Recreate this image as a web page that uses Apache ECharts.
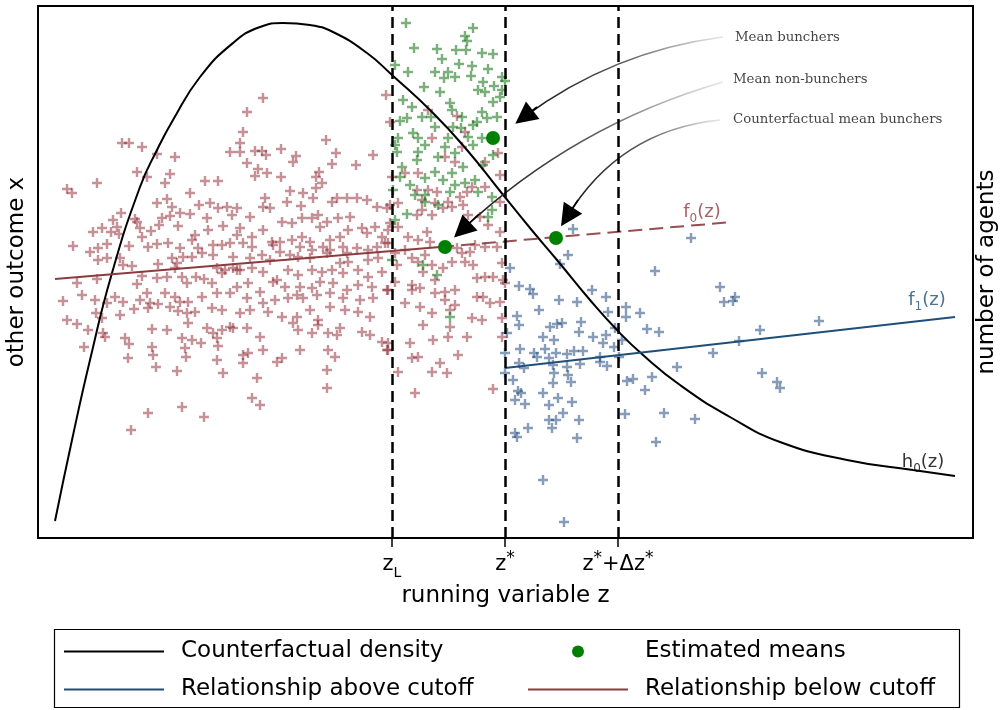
<!DOCTYPE html>
<html><head><meta charset="utf-8">
<script src="https://cdn.jsdelivr.net/npm/echarts@6/dist/echarts.min.js"></script>
<style>html,body{margin:0;padding:0;background:#fff}#c{width:1000px;height:710px}</style>
</head><body><div id="c"></div>
<script>
// ---------- data ----------
const zTicks = [35.4, 46.7, 58.0];
const zTickLabels = ['{m|z}{s|L}', '{m|z}{p|*}', '{m|z}{p|*}{m|+Δz}{p|*}'];

const densityH0 = [[1.7,1.7],[3.4,9.8],[5.2,17.8],[7.4,26.5],[10.2,35.1],[11.9,38.8],[13.5,41.8],[16.2,46.1],[19.5,49.5],[22.2,51.1],[24.5,51.5],[27.2,51.3],[29.5,50.6],[32.9,48.5],[35.4,46.3],[39.5,42.5],[42.9,38.8],[46.2,34.7],[49.2,31.0],[51.9,27.8],[55.2,23.8],[57.9,20.8],[60.5,18.3],[64.2,15.3],[69.2,12.1],[74.2,9.6],[80.9,7.8],[87.5,6.8],[91.7,6.2]];

const f0Fit = [[1.7,25.9],[40.2,29.1]];
const f0Extrap = [[40.2,29.1],[69.5,31.6]];
const f1Fit = [[46.7,17.0],[91.7,22.1]];
const estimatedMeans = [[45.5,40.0],[40.7,29.1],[51.8,30.0]];

const belowPts = [[8.4,39.5],[9.1,39.5],[10.4,39.1],[11.9,38.4],[13.7,38.1],[9.9,36.6],[10.9,36.1],[13.2,36.4],[12.7,35.5],[5.9,35.5],[2.9,34.9],[3.4,34.5],[15.2,34.5],[16.7,35.7],[18.0,35.7],[19.2,38.6],[11.9,33.5],[12.9,33.9],[13.4,33.1],[8.3,32.5],[7.5,31.8],[9.7,31.9],[9.9,31.6],[12.4,32.0],[13.2,32.2],[14.2,32.5],[15.2,32.4],[16.1,33.3],[17.2,33.5],[18.0,33.0],[18.9,33.1],[16.9,32.0],[19.4,32.3],[5.5,30.6],[6.4,31.0],[7.3,30.6],[7.9,31.1],[8.1,30.4],[10.2,31.0],[10.4,30.1],[11.3,30.7],[12.1,31.3],[14.0,31.2],[17.0,30.8],[18.5,31.2],[3.5,29.2],[5.2,28.6],[6.0,29.0],[6.9,29.4],[9.1,29.2],[11.0,29.1],[11.9,29.4],[13.0,29.5],[14.2,29.0],[15.4,29.8],[15.7,30.3],[16.0,29.0],[17.5,29.3],[18.4,29.3],[19.9,30.3],[6.0,27.8],[6.9,28.0],[8.2,28.0],[8.5,27.3],[9.4,27.2],[12.0,27.4],[13.4,28.0],[13.9,27.5],[14.5,28.1],[15.4,28.1],[16.4,28.5],[17.5,28.3],[19.5,28.1],[17.9,27.0],[18.7,26.8],[19.5,27.0],[3.9,25.5],[4.4,24.3],[5.9,25.9],[7.7,24.1],[9.9,25.4],[10.4,26.2],[11.9,26.0],[12.9,26.1],[13.7,27.0],[14.4,26.1],[14.9,25.5],[15.8,26.1],[16.6,25.9],[17.4,25.5],[18.4,26.5],[19.9,26.8],[2.5,23.7],[5.7,23.8],[6.9,23.5],[8.5,23.6],[10.2,23.8],[10.9,24.5],[11.2,23.5],[12.7,24.5],[13.7,24.1],[14.2,23.6],[15.0,23.6],[16.4,24.1],[17.9,24.5],[19.2,24.5],[2.9,21.8],[3.9,21.4],[5.0,20.8],[5.8,22.5],[6.4,22.0],[8.2,22.3],[9.6,22.9],[11.0,23.0],[12.0,23.4],[13.2,23.1],[14.0,22.7],[14.9,22.5],[15.7,22.6],[17.4,23.0],[18.4,22.8],[6.5,20.5],[6.7,20.1],[8.7,20.0],[9.1,19.4],[11.4,20.9],[12.9,20.8],[14.4,20.0],[15.0,21.5],[16.9,21.0],[17.5,20.5],[18.4,20.8],[19.2,21.1],[4.6,19.1],[9.0,18.0],[11.4,19.1],[11.5,18.3],[14.7,19.0],[15.4,19.8],[16.3,19.5],[17.9,20.0],[18.0,19.2],[11.8,17.1],[13.9,16.7],[14.8,18.1],[17.9,17.8],[18.5,16.5],[14.4,13.1],[11.0,12.5],[16.6,12.1],[9.3,10.8],
[22.5,44.0],[20.9,42.6],[20.5,40.6],[20.2,39.5],[20.2,38.6],[21.7,38.7],[22.4,38.7],[22.8,38.3],[24.3,38.9],[25.5,37.6],[25.8,38.2],[28.8,39.8],[29.8,38.5],[29.4,37.4],[20.9,37.5],[22.0,36.9],[21.7,36.2],[22.9,36.5],[24.3,36.1],[28.1,36.6],[27.8,36.1],[28.4,35.5],[27.8,35.0],[31.8,37.3],[33.5,38.3],[34.8,44.3],[25.2,34.7],[26.5,34.5],[27.5,34.0],[26.3,33.2],[22.7,34.0],[22.5,33.1],[23.2,33.0],[24.9,33.6],[29.4,33.6],[29.9,34.0],[30.9,34.0],[31.9,34.0],[32.9,33.8],[33.9,33.1],[34.9,33.0],[19.9,33.0],[21.2,32.1],[24.4,31.6],[25.4,31.5],[26.4,32.0],[27.4,32.0],[28.0,32.3],[28.9,31.6],[30.0,32.0],[31.2,32.1],[32.4,31.0],[33.7,31.1],[20.2,31.0],[21.4,30.1],[22.5,30.8],[23.4,29.6],[24.2,29.6],[25.4,29.8],[26.4,30.1],[27.2,29.6],[28.2,31.1],[29.2,29.8],[30.2,30.1],[31.0,30.8],[32.9,30.5],[34.4,30.1],[35.0,30.8],[19.2,29.5],[20.5,29.5],[21.4,29.1],[22.4,28.3],[23.5,29.3],[24.2,28.6],[26.2,29.1],[27.4,28.8],[28.5,29.1],[29.2,28.8],[30.5,29.1],[30.9,28.5],[31.9,29.0],[33.0,28.8],[33.9,29.1],[34.7,29.5],[21.2,28.0],[23.2,27.8],[25.2,28.3],[26.0,28.1],[27.2,28.0],[28.9,28.5],[30.2,27.5],[31.0,27.6],[33.0,27.8],[34.0,28.0],[20.2,26.8],[21.4,27.0],[22.5,26.6],[23.9,25.8],[25.0,26.8],[26.0,26.3],[27.4,26.8],[28.4,26.6],[29.4,26.8],[30.5,26.5],[32.0,26.8],[33.0,26.1],[34.4,26.6],[19.9,25.1],[21.0,25.5],[22.2,24.6],[23.5,25.6],[24.7,25.1],[26.2,25.1],[27.4,25.0],[28.2,25.6],[29.5,25.5],[30.9,24.8],[32.0,25.3],[33.4,25.1],[34.9,24.8],[20.9,24.0],[22.5,23.5],[23.7,23.8],[25.0,24.0],[25.9,24.3],[26.5,24.0],[27.9,24.3],[29.2,24.5],[30.5,24.0],[32.2,23.8],[33.5,24.0],[20.2,22.5],[21.2,22.8],[23.0,22.6],[24.4,22.1],[25.9,22.1],[27.2,22.8],[28.0,21.8],[29.2,23.1],[30.7,22.8],[32.0,22.6],[33.2,22.1],[19.5,21.0],[20.9,21.0],[22.2,20.1],[25.5,21.5],[26.0,20.8],[27.4,20.5],[28.0,21.3],[29.0,20.5],[29.9,20.3],[30.2,21.0],[32.4,20.6],[33.2,20.3],[34.4,19.6],[34.9,18.8],[20.5,18.3],[21.0,18.5],[20.5,17.5],[22.5,18.8],[23.9,17.6],[24.4,18.0],[26.2,18.8],[29.0,18.8],[29.7,18.1],[21.9,16.0],[28.9,16.8],[21.4,14.0],[22.2,13.3],[28.9,15.0],
[35.2,41.6],[39.0,42.8],[41.9,42.2],[39.4,40.0],[42.7,40.6],[40.7,38.1],[41.7,37.6],[42.4,39.1],[44.7,37.6],[46.0,38.5],[46.2,36.3],[35.4,36.1],[36.7,36.5],[38.0,36.5],[39.0,34.8],[39.9,34.6],[42.2,34.1],[42.9,34.6],[43.4,35.1],[44.7,35.1],[46.2,33.6],[38.4,33.8],[39.7,33.5],[41.0,33.6],[36.0,33.5],[37.9,34.8],
[35.2,33.3],[37.9,32.3],[38.4,32.8],[39.4,32.3],[40.5,33.0],[41.4,33.1],[42.5,33.3],[43.0,32.3],[44.2,32.1],[45.0,31.3],[46.2,30.6],[35.2,31.5],[36.0,31.1],[37.0,30.1],[38.0,29.8],[38.9,30.6],[39.2,29.6],[36.7,28.8],[37.4,28.0],[38.0,27.6],[38.7,28.3],[39.4,27.3],[35.9,27.3],[35.0,29.5],[35.7,28.5],[41.9,29.0],[42.4,28.5],[43.2,28.6],[43.7,29.3],[44.7,29.1],[45.9,29.1],[41.4,27.6],[42.7,27.6],[43.5,27.3],[35.7,25.6],[37.4,25.3],[38.5,26.6],[39.7,25.8],[40.5,27.0],[43.9,26.0],[44.7,26.1],[45.5,26.1],[46.7,25.5],[35.0,24.8],[37.4,24.8],[38.2,25.0],[39.7,24.5],[40.7,24.6],[41.7,24.8],[43.9,24.1],[44.5,24.1],[45.2,23.5],[46.2,23.6],[36.7,23.5],[38.2,23.1],[39.4,22.5],[40.7,23.8],[41.2,22.8],[41.7,23.3],[43.4,22.0],[44.4,21.8],[46.4,22.0],[38.5,21.3],[41.2,21.1],[42.9,20.1],[35.0,19.5],[37.2,19.5],[39.5,19.8],[41.0,20.1],[42.0,18.3],[37.4,18.0],[38.0,18.1],[36.0,16.6],[39.4,16.6],[40.2,17.5],[40.9,16.5],[37.7,14.5],[45.5,14.9],[35.0,18.8],[46.4,20.1],[46.4,27.5],[46.5,25.8]];

const buncherPts = [[36.8,51.5],[43.5,51.0],[42.7,50.2],[42.9,49.7],[37.6,49.0],[39.9,48.9],[41.8,48.8],[42.8,48.8],[44.4,48.5],[45.5,48.4],[40.4,47.9],[42.1,47.4],[35.7,47.3],[37.0,46.6],[39.7,46.6],[41.0,46.6],[43.4,47.2],[45.0,46.9],[46.4,46.1],[46.7,45.7],[40.6,46.0],[41.7,46.1],[43.3,46.2],[44.5,45.6],[45.6,45.2],[38.6,45.1],[40.2,44.6],[44.0,44.8],[44.7,44.6],[46.4,44.8],[46.2,44.1],[45.5,43.6],[36.5,43.8],[37.4,43.1],[41.2,43.5],[41.4,42.8],[44.4,42.6],[38.4,42.1],[39.3,42.1],[36.9,42.0],[36.2,41.7],[42.4,42.1],[43.9,41.6],[44.9,42.0],[45.9,42.1],[39.7,41.1],[41.5,41.1],[42.3,41.0],[43.5,41.3],[37.5,40.5],[36.0,40.0],[38.0,40.0],[41.0,40.0],[43.0,40.1],[44.4,40.0],[38.7,39.3],[40.7,39.1],[35.7,39.3],[35.9,38.6],[38.0,38.6],[40.0,38.1],[41.7,38.5],[43.5,39.3],[45.5,38.3],[36.4,37.1],[37.9,37.8],[39.7,36.6],[41.4,36.5],[42.5,37.1],[44.5,37.3],[36.2,36.1],[37.2,35.3],[38.7,36.0],[40.5,35.8],[41.7,35.3],[42.7,35.5],[43.7,35.8],[35.5,34.8],[37.7,34.3],[38.7,34.3],[41.2,34.6],[44.0,34.6],[45.4,34.1],[36.9,32.4],[35.7,31.8],[35.4,27.8],[38.5,27.3],[39.9,26.3],[41.2,22.1],[45.4,32.8],[45.0,32.1],[40.0,33.3],[38.7,33.6]];

const abovePts = [[53.0,28.3],[52.2,27.4],[47.2,27.0],[61.7,26.7],[48.1,25.2],[49.2,24.9],[49.5,24.4],[52.1,23.8],[53.9,23.6],[55.4,24.8],[56.8,24.1],[50.1,22.8],[47.9,22.2],[48.1,21.3],[51.2,21.1],[51.9,21.4],[52.4,21.5],[54.3,21.6],[54.1,20.6],[50.5,20.1],[51.6,19.8],[55.5,20.1],[56.8,20.3],[56.5,19.5],[57.0,22.6],[57.7,21.0],[58.8,23.1],[58.8,22.1],[60.2,22.5],[60.9,20.9],[62.1,20.6],[58.4,19.8],[46.9,20.5],[48.2,18.9],[49.6,18.5],[49.9,18.1],[50.7,18.9],[51.1,18.0],[51.8,18.5],[52.9,18.4],[53.6,18.7],[54.5,18.7],[56.2,18.1],[57.6,19.1],[58.1,18.1],[48.1,17.5],[48.6,17.0],[51.5,17.3],[52.9,17.1],[54.2,17.4],[56.2,17.6],[56.9,17.2],[46.7,16.5],[47.5,15.8],[51.6,16.5],[53.0,16.3],[53.3,15.6],[51.5,15.5],[58.9,15.7],[59.5,15.9],[61.4,16.1],[60.7,14.8],[48.0,14.7],[48.3,14.5],[50.5,14.5],[47.7,13.8],[48.7,13.4],[51.1,13.3],[52.0,14.0],[53.4,13.6],[52.5,12.5],[51.1,11.8],[51.8,11.8],[54.1,11.8],[51.4,11.0],[49.0,11.0],[47.7,10.5],[47.9,10.1],[53.9,10.0],[58.7,12.4],[62.6,12.5],[61.8,9.6],[50.5,5.8],[52.6,1.6],[63.9,17.1],[53.5,30.9],[65.3,30.0],[68.2,25.1],[68.6,23.6],[69.5,23.7],[69.7,24.1],[78.1,21.7],[72.2,20.8],[70.1,19.7],[67.5,18.5],[72.4,16.5],[73.9,15.6],[74.2,15.0],[46.7,18.5],[65.7,11.9]];

// annotation texts: label anchor, arrow start, arrow end, point just behind the head, bend
const annotTexts = ['Mean bunchers', 'Mean non-bunchers', 'Counterfactual mean bunchers'];
const annotAt    = [[69.7,50.0],[69.5,45.8],[69.5,41.8]];
const arrowFrom  = [[68.5,50.1],[68.5,45.6],[68.2,41.8]];
const arrowTo    = [[48.6,42.1],[42.4,30.8],[52.9,32.1]];
const arrowBack  = [[49.9,43.1],[44.1,32.4],[54.0,33.8]];
const arrowBend  = [-0.13,-0.12,-0.25];

const curveLabelTexts = ['{m|f}{s|0}{m|(z)}', '{m|f}{s|1}{m|(z)}', '{m|h}{s|0}{m|(z)}'];
const curveLabelAt = [[66.4,32.6],[88.9,23.8],[88.5,7.6]];

// ---------- styling ----------
const FONT = 'DejaVu Sans, Verdana, sans-serif';
const RED = '#8c3b3f', BLUE = '#1f4e79', GREEN = '#008000';
const curveLabelColors = [RED, BLUE, '#000'];
const PLUS = 'path://M3.8,0H6.2V3.8H10V6.2H6.2V10H3.8V6.2H0V3.8H3.8Z';
const Y_MAX = 53.2;

const chart = echarts.init(document.getElementById('c'), null, {renderer: 'canvas'});

function plusSeries(data, color) {
  return {type: 'scatter', data: data, symbol: PLUS, symbolSize: 10, silent: true,
    itemStyle: {color: color, opacity: 1}, z: 1};
}
const noDot = {opacity: 0};

const option = {
  animation: false,
  backgroundColor: '#fff',
  grid: {left: 38, right: 27, top: 6, bottom: 172, show: true, borderColor: '#000', borderWidth: 2,
    containLabel: false, outerBoundsMode: 'none'},
  xAxis: {
    type: 'value', min: 0, max: 93.5,
    name: 'running variable z', nameLocation: 'middle', nameGap: 43,
    nameTextStyle: {fontFamily: FONT, fontSize: 23, color: '#000'},
    axisLine: {show: true, lineStyle: {color: '#000', width: 2}},
    axisTick: {show: true, customValues: zTicks, length: 9, lineStyle: {color: '#000', width: 1.5}},
    axisLabel: {
      show: true, customValues: zTicks, margin: 12,
      formatter: function (v) { const i = zTicks.findIndex(t => Math.abs(t - v) < 1e-6); return i >= 0 ? zTickLabels[i] : ''; },
      rich: {
        m: {fontFamily: FONT, fontSize: 21, color: '#000', lineHeight: 30},
        s: {fontFamily: FONT, fontSize: 14, color: '#000', lineHeight: 22, verticalAlign: 'bottom'},
        p: {fontFamily: FONT, fontSize: 17, color: '#000', lineHeight: 18, verticalAlign: 'top'}
      }
    },
    splitLine: {show: false}
  },
  yAxis: [
    {type: 'value', min: 0, max: Y_MAX, name: 'other outcome x', nameLocation: 'middle', nameRotate: 90, nameGap: 9,
      nameTextStyle: {fontFamily: FONT, fontSize: 23, color: '#000'},
      axisLine: {show: false}, axisTick: {show: false}, axisLabel: {show: false}, splitLine: {show: false}},
    {type: 'value', min: 0, max: Y_MAX, position: 'right', name: 'number of agents', nameLocation: 'middle', nameRotate: 90, nameGap: 3,
      nameTextStyle: {fontFamily: FONT, fontSize: 23, color: '#000'},
      axisLine: {show: false}, axisTick: {show: false}, axisLabel: {show: false}, splitLine: {show: false}}
  ],
  legend: [
    {left: 63, top: 640, orient: 'vertical', padding: 0, itemWidth: 100, itemHeight: 12, itemGap: 15, selectedMode: false,
      data: [{name: 'Counterfactual density', itemStyle: noDot}, {name: 'Relationship above cutoff', itemStyle: noDot}],
      textStyle: {fontFamily: FONT, fontSize: 23, color: '#000', lineHeight: 22, padding: [0, 0, 0, 12]}},
    {left: 527, top: 640, orient: 'vertical', padding: 0, itemWidth: 100, itemHeight: 12, itemGap: 15, selectedMode: false,
      data: ['Estimated means', {name: 'Relationship below cutoff', itemStyle: noDot}],
      textStyle: {fontFamily: FONT, fontSize: 23, color: '#000', lineHeight: 22, padding: [0, 0, 0, 12]}}
  ],
  graphic: [
    {type: 'rect', left: 52, top: 627, shape: {width: 905, height: 78}, style: {fill: 'none', stroke: '#000', lineWidth: 1.2}, silent: true}
  ],
  series: [
    plusSeries(belowPts, 'rgba(140,35,45,0.5)'),
    plusSeries(buncherPts, 'rgba(15,110,15,0.55)'),
    plusSeries(abovePts, 'rgba(35,75,125,0.55)'),
    {
      name: 'Counterfactual density', type: 'line', yAxisIndex: 1, data: densityH0, smooth: 0.5,
      symbol: 'none', lineStyle: {color: '#000', width: 2}, itemStyle: {color: '#000'}, z: 3,
      markLine: {silent: true, symbol: 'none', label: {show: false},
        lineStyle: {color: '#000', width: 2.5, type: [11, 6]},
        data: zTicks.map(t => ({xAxis: t}))}
    },
    {name: 'Relationship below cutoff', type: 'line', data: f0Fit, symbol: 'none',
      lineStyle: {color: RED, width: 2}, itemStyle: {color: RED}, z: 3},
    {type: 'line', data: f0Extrap, symbol: 'none',
      lineStyle: {color: RED, width: 2, type: [14, 7], opacity: 0.9}, itemStyle: {color: RED}, z: 3},
    {name: 'Relationship above cutoff', type: 'line', data: f1Fit, symbol: 'none',
      lineStyle: {color: BLUE, width: 2}, itemStyle: {color: BLUE}, z: 3},
    {type: 'lines', coordinateSystem: 'cartesian2d', silent: true, z: 4,
      data: annotTexts.map((t, i) => ({coords: [arrowFrom[i], arrowTo[i]], lineStyle: {curveness: arrowBend[i]}})),
      symbol: 'none',
      lineStyle: {width: 1.6, opacity: 1,
        color: new echarts.graphic.LinearGradient(0, 0, 1, 0, [
          {offset: 0, color: '#111'}, {offset: 0.55, color: '#666'}, {offset: 1, color: 'rgba(215,215,215,0.6)'}])}},
    {type: 'lines', coordinateSystem: 'cartesian2d', silent: true, z: 5,
      data: annotTexts.map((t, i) => ({coords: [arrowBack[i], arrowTo[i]]})),
      symbol: ['none', 'triangle'], symbolSize: [22, 22],
      lineStyle: {width: 1.6, color: '#000', opacity: 1}},
    {name: 'Estimated means', type: 'scatter', data: estimatedMeans, symbol: 'circle', symbolSize: 14,
      itemStyle: {color: GREEN, opacity: 1}, z: 6},
    {type: 'scatter', silent: true, symbolSize: 0, z: 7,
      data: annotTexts.map((t, i) => ({name: t, value: annotAt[i]})),
      label: {show: true, position: 'right', distance: 0, formatter: '{b}',
        fontFamily: 'DejaVu Serif, Liberation Serif, serif', fontSize: 13.3, color: '#111'}},
    {type: 'scatter', silent: true, symbolSize: 0, z: 7,
      data: curveLabelTexts.map((t, i) => ({value: curveLabelAt[i],
        label: {formatter: t, rich: {
          m: {fontFamily: FONT, fontSize: 18, color: curveLabelColors[i], lineHeight: 26},
          s: {fontFamily: FONT, fontSize: 12, color: curveLabelColors[i], lineHeight: 19, verticalAlign: 'bottom'}}}})),
      label: {show: true, position: 'inside'}}
  ]
};
chart.setOption(option);
</script>
</body></html>
